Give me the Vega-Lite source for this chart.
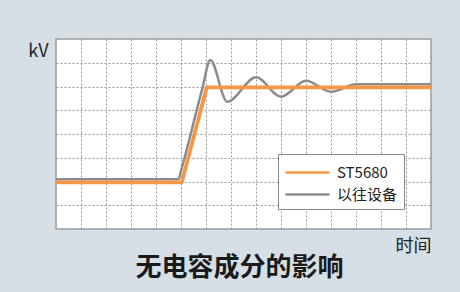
{
  "$schema": "https://vega.github.io/schema/vega-lite/v6.json",
  "autosize": {"type": "none"},
  "width": 375,
  "height": 190,
  "padding": {"left": 56, "top": 39, "right": 29, "bottom": 63},
  "background": "#d6dfe6",
  "config": {
    "view": {"fill": "white", "stroke": "#9a9a9a", "strokeWidth": 1.5},
    "font": "Noto Sans CJK SC"
  },
  "title": {
    "text": "无电容成分的影响",
    "orient": "bottom",
    "frame": "group",
    "anchor": "middle",
    "dx": -4,
    "offset": 0,
    "font": "Noto Sans CJK SC",
    "fontSize": 26,
    "fontWeight": "bold",
    "color": "#1a1a1a"
  },
  "datasets": {
    "old": [
      {"t": 0, "v": 2.09, "s": "以往设备"},
      {"t": 4.9, "v": 2.09, "s": "以往设备"},
      {"t": 5.0, "v": 2.45, "s": "以往设备"},
      {"t": 5.85, "v": 5.9, "s": "以往设备"},
      {"t": 6.17, "v": 7.12, "s": "以往设备"},
      {"t": 6.85, "v": 5.36, "s": "以往设备"},
      {"t": 8.0, "v": 6.39, "s": "以往设备"},
      {"t": 9.0, "v": 5.57, "s": "以往设备"},
      {"t": 10.0, "v": 6.24, "s": "以往设备"},
      {"t": 11.0, "v": 5.78, "s": "以往设备"},
      {"t": 12.0, "v": 6.09, "s": "以往设备"},
      {"t": 15.0, "v": 6.1, "s": "以往设备"}
    ],
    "new": [
      {"t": 0, "v": 1.96, "s": "ST5680"},
      {"t": 5.03, "v": 1.96, "s": "ST5680"},
      {"t": 6.03, "v": 5.96, "s": "ST5680"},
      {"t": 15.0, "v": 5.96, "s": "ST5680"}
    ]
  },
  "encoding": {
    "x": {
      "field": "t", "type": "quantitative",
      "scale": {"domain": [0, 15], "nice": false, "zero": false},
      "axis": {
        "values": [1,2,3,4,5,6,7,8,9,10,11,12,13,14],
        "grid": true, "gridDash": [2, 2], "gridColor": "#999999", "gridWidth": 1,
        "domain": false, "ticks": false, "labels": false,
        "title": "时间", "titleFont": "Noto Sans CJK SC", "titleFontSize": 18, "titleFontWeight": "normal",
        "titleColor": "#222222", "titleAlign": "right", "titleAnchor": "end",
        "titleX": 375, "titleY": 22, "titleBaseline": "alphabetic"
      }
    },
    "y": {
      "field": "v", "type": "quantitative",
      "scale": {"domain": [0, 8], "nice": false, "zero": false},
      "axis": {
        "values": [1,2,3,4,5,6,7],
        "grid": true, "gridDash": [2, 2], "gridColor": "#999999", "gridWidth": 1,
        "domain": false, "ticks": false, "labels": false,
        "title": "kV", "titleFont": "Noto Sans CJK SC", "titleFontSize": 18, "titleFontWeight": "normal",
        "titleColor": "#222222", "titleAngle": 0, "titleAlign": "right",
        "titleX": -8, "titleY": 17, "titleBaseline": "alphabetic"
      }
    },
    "color": {
      "field": "s", "type": "nominal",
      "scale": {"domain": ["ST5680", "以往设备"], "range": ["#f79646", "#8c8c8c"]},
      "legend": {
        "title": null,
        "orient": "none",
        "legendX": 222,
        "legendY": 115,
        "fillColor": "white",
        "strokeColor": "#8a8a8a",
        "padding": 6,
        "symbolType": "M-1,0H3",
        "symbolSize": 484,
        "symbolStrokeWidth": 2.5,
        "symbolFillColor": "transparent",
        "labelFont": "Noto Sans CJK SC",
        "labelFontSize": 15,
        "labelColor": "#222222",
        "labelOffset": 28,
        "rowPadding": 1
      }
    }
  },
  "layer": [
    {
      "data": {"name": "old"},
      "mark": {"type": "line", "interpolate": "monotone", "strokeWidth": 2.5}
    },
    {
      "data": {"name": "new"},
      "mark": {"type": "line", "strokeWidth": 3.8}
    }
  ]
}
